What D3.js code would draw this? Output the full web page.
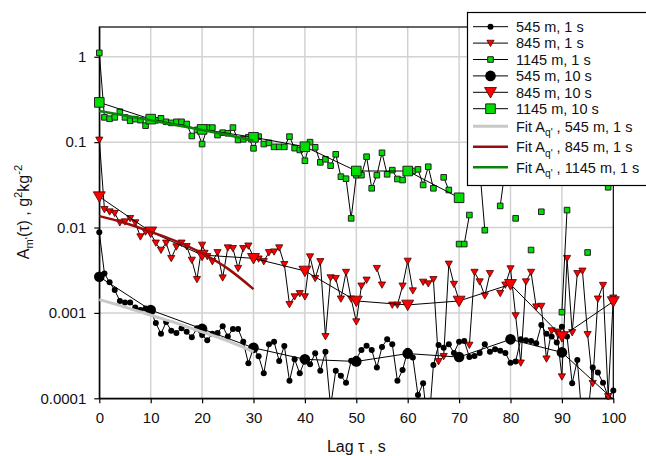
<!DOCTYPE html>
<html>
<head>
<meta charset="utf-8">
<script src="https://cdn.jsdelivr.net/npm/d3@7"></script>
<style>
  body { margin: 0; background: #fff; }
  svg { font-family: "Liberation Sans", Arial, sans-serif; }
</style>
</head>
<body>
<div id="chart"></div>
<script>
// lag axis (s)
var lags1s = d3.range(0, 101);
var lags10s = [0, 10, 20, 30, 40, 50, 60, 70, 80, 90, 100];
var lagsFit = [0, 5, 10, 15, 20, 25, 30];

// A_m'(tau), 545 m, 1 s  (null = negative / not plotted)
var a545_1s = [
  0.0088, 0.0029, 0.00228, 0.00185, 0.00138, 0.00132, 0.00132, 0.00116, 0.00108, 0.00113,
  0.00105, 0.00076, 0.00057, 0.00078, 0.00062, 0.00058, 0.00066, 0.0006, 0.00052, 0.00066,
  0.00055, 0.00048, 0.00057, 0.00058, 0.0007, 0.00053, 0.00065, 0.00065, 0.00046, 0.000257,
  0.00039, 0.00031, 0.000196, 0.00043, 0.00046, 0.000273, 0.00041, 0.00016, 0.000286, 0.000196,
  0.00028, 0.00025, 0.000336, 0.00021, 0.00035, 0.00008, 0.00021, 0.000184, 0.000152, 0.000276,
  0.00029, 0.000368, 0.000413, 0.000368, 0.00023, 0.0004, 0.00049, 0.00043, 0.00016, 0.000214,
  0.00036, 0.0003, 0.000109, 0.00015, 0.00004, 0.000245, 0.00042, 0.00039, 0.00043, 0.00034,
  0.00046, 0.00047, 0.000304, 0.000313, 0.00034, 0.00043, 0.00035, 0.000375, 0.00036, 0.00034,
  0.00026, 0.00027, 0.00049, 0.00048, 0.00047, 0.00044, 0.00072, 0.00057, 0.00053, 0.00045,
  0.00069, 0.00053, 0.00015, 0.00028, 0.00005, 0.00006, 0.00023, 0.0002, 0.000152, 0.000105,
  0.000123
];

// 845 m, 1 s
var a845_1s = [
  0.106, 0.0163, 0.0153, 0.0147, 0.0114, 0.0117, 0.0128, 0.0114, 0.0078, 0.0089,
  0.0085, 0.0066, 0.00545, 0.0066, 0.00436, 0.00596, 0.0066, 0.006, 0.00416, 0.00247,
  0.00624, 0.0046, 0.004, 0.0051, 0.00258, 0.0058, 0.0057, 0.00333, 0.0057, 0.0061,
  0.0045, 0.0043, 0.004, 0.0051, 0.0052, 0.0058, 0.0037, 0.00126, 0.00155, 0.00169,
  0.00155, 0.00455, 0.00254, 0.004, 0.00053, 0.00259, 0.00254, 0.00146, 0.003, 0.00146,
  0.00079, 0.00207, 0.00243, null, 0.00333, 0.00213, null, 0.00124, 0.00124, 0.00207,
  0.00405, 0.00182, null, 0.0023, 0.0022, 0.00247, 0.00027, 0.00031, 0.00374, 0.00217,
  0.0014, null, 0.00042, 0.003, 0.00232, 0.00159, 0.0029, null, 0.0017, 0.00213,
  0.0033, 0.00093, 0.00026, 0.00232, 0.003, 0.00118, 0.0012, 0.00029, 0.00062, 0.0006,
  0.000179, 0.00436, 0.00059, 0.0029, 0.0031, 0.00056, 0.00015, 0.00146, 0.00211, 0.000105,
  0.0015
];

// 1145 m, 1 s
var a1145_1s = [
  1.11, 0.195, 0.188, 0.195, 0.227, 0.195, 0.178, 0.186, 0.181, 0.156,
  0.18, 0.18, 0.19, 0.173, 0.168, 0.173, 0.173, 0.163, 0.118, 0.139,
  0.095, 0.148, 0.148, 0.121, 0.129, 0.127, 0.148, 0.106, 0.108, 0.114,
  0.0846, 0.116, 0.095, 0.098, 0.088, 0.088, 0.088, 0.116, 0.085, 0.081,
  0.0606, 0.1, 0.087, 0.058, 0.063, 0.053, 0.072, 0.0394, 0.0373, 0.0128,
  0.041, 0.041, 0.0675, 0.0288, 0.041, 0.075, 0.042, 0.047, 0.037, 0.036,
  0.045, 0.046, 0.048, 0.0315, 0.0515, 0.0288, null, 0.0387, 0.0275, null,
  0.0064, 0.0064, 0.014, null, 0.05, 0.0093, null, null, 0.0179, 0.05,
  null, 0.0128, null, null, 0.00545, null, 0.0153, null, null, null,
  0.00102, 0.016, null, null, null, 0.0051, null, null, null, 0.0296,
  null
];

// 10 s averages
var a545_10s = [0.00265, 0.00108, 0.00065, 0.00039, 0.000286, 0.00027, 0.000334, 0.000304, 0.00049, 0.000345, 0.000097];
var a845_10s = [0.023, 0.0089, 0.00476, 0.00436, 0.0031, 0.00138, 0.00124, 0.00138, 0.00216, 0.00053, 0.00136];
var a1145_10s = [0.292, 0.186, 0.141, 0.114, 0.0883, 0.0459, 0.0459, 0.0223, null, null, null];

// fits A_q'
var fit545 = [0.00143, 0.00117, 0.00094, 0.00076, 0.0006, 0.00047, 0.00035];
var fit845 = [0.0136, 0.0113, 0.0089, 0.0069, 0.005, 0.0033, 0.0019];
var fit1145 = [0.231, 0.205, 0.18, 0.158, 0.139, 0.121, 0.104];

var xTicks = [0, 10, 20, 30, 40, 50, 60, 70, 80, 90, 100];
var yTicks = [0.0001, 0.001, 0.01, 0.1, 1];
var yTickLabels = ["0.0001", "0.001", "0.01", "0.1", "1"];

var width = 646, height = 456;
var plotL = 99.3, plotR = 613.3, plotT = 27, plotB = 398.3;

var svg = d3.select("#chart").append("svg")
  .attr("width", width)
  .attr("height", height);

var x = d3.scaleLinear().domain([0, 100]).range([plotL, plotR]);
var y = d3.scaleLog().domain([0.0001, 2.23]).range([plotB, plotT]);

svg.append("defs").append("clipPath").attr("id", "clip")
  .append("rect")
  .attr("x", plotL - 20).attr("y", plotT)
  .attr("width", plotR - plotL + 40).attr("height", plotB - plotT);

// grid
var grid = svg.append("g");
grid.selectAll("line.vx")
  .data(xTicks.slice(1, -1))
  .join("line")
  .attr("x1", d => x(d)).attr("x2", d => x(d))
  .attr("y1", plotT).attr("y2", plotB)
  .attr("stroke", "#d2d2d2").attr("stroke-width", 1.5);
grid.selectAll("line.hy")
  .data(yTicks.slice(1))
  .join("line")
  .attr("y1", d => y(d)).attr("y2", d => y(d))
  .attr("x1", plotL).attr("x2", plotR)
  .attr("stroke", "#d2d2d2").attr("stroke-width", 1.5);

// frame
svg.append("rect")
  .attr("x", plotL).attr("y", plotT)
  .attr("width", plotR - plotL).attr("height", plotB - plotT)
  .attr("fill", "none").attr("stroke", "#000").attr("stroke-width", 1.2);

// axes
var xAxis = svg.append("g")
  .attr("transform", "translate(0," + plotB + ")")
  .call(d3.axisBottom(x).tickValues(xTicks).tickSize(5).tickSizeOuter(0).tickPadding(9));
var yAxis = svg.append("g")
  .attr("transform", "translate(" + plotL + ",0)")
  .call(d3.axisLeft(y).tickValues(yTicks).tickSize(5).tickSizeOuter(0).tickPadding(8)
    .tickFormat((d, i) => yTickLabels[i]));
[xAxis, yAxis].forEach(function (a) {
  a.selectAll("text").attr("font-size", "15px").attr("fill", "#111")
    .attr("font-family", "'Liberation Sans', Arial, sans-serif");
  a.selectAll("line").attr("stroke", "#000").attr("stroke-width", 1.2);
  a.select(".domain").attr("stroke", "#000").attr("stroke-width", 1.2);
});

// marker shapes
function markerPath(shape, s) {
  if (shape === "circle") return d3.symbol(d3.symbolCircle, Math.PI * s * s)();
  if (shape === "square") return "M" + (-s) + "," + (-s) + "h" + (2 * s) + "v" + (2 * s) + "h" + (-2 * s) + "Z";
  return "M" + (-s) + "," + (-0.8 * s) + "L" + s + "," + (-0.8 * s) + "L0," + (0.95 * s) + "Z";
}

var styles = {
  black: { fill: "#000", stroke: "#000", sw: 0 },
  red: { fill: "#ff0000", stroke: "#4a0000", sw: 0.8 },
  green: { fill: "#00dd00", stroke: "#222", sw: 1 }
};

var series = [
  { name: "545 m, 1 s", lags: lags1s, vals: a545_1s, shape: "circle", size: 3, col: "black" },
  { name: "845 m, 1 s", lags: lags1s, vals: a845_1s, shape: "tri", size: 3.6, col: "red" },
  { name: "1145 m, 1 s", lags: lags1s, vals: a1145_1s, shape: "square", size: 2.8, col: "green" },
  { name: "545 m, 10 s", lags: lags10s, vals: a545_10s, shape: "circle", size: 5.3, col: "black" },
  { name: "845 m, 10 s", lags: lags10s, vals: a845_10s, shape: "tri", size: 6, col: "red" },
  { name: "1145 m, 10 s", lags: lags10s, vals: a1145_10s, shape: "square", size: 4.8, col: "green" }
];

var fits = [
  { name: "545 m, 1 s", vals: fit545, color: "#c8c8c8", w: 3 },
  { name: "845 m, 1 s", vals: fit845, color: "#9a0c0c", w: 2.5 },
  { name: "1145 m, 1 s", vals: fit1145, color: "#0b820b", w: 2.5 }
];

var line = d3.line()
  .defined(d => d.v != null)
  .x(d => x(d.l))
  .y(d => y(d.v));

var plot = svg.append("g");

series.forEach(function (s) {
  var pts = s.lags.map((l, i) => ({ l: l, v: s.vals[i] }));
  var st = styles[s.col];
  plot.append("path")
    .datum(pts)
    .attr("clip-path", "url(#clip)")
    .attr("d", line)
    .attr("fill", "none")
    .attr("stroke", "#000")
    .attr("stroke-width", 1);
  plot.append("g")
    .selectAll("path")
    .data(pts.filter(d => d.v != null && d.v >= 0.0001))
    .join("path")
    .attr("transform", d => "translate(" + x(d.l) + "," + y(d.v) + ")")
    .attr("d", markerPath(s.shape, s.size))
    .attr("fill", st.fill)
    .attr("stroke", st.stroke)
    .attr("stroke-width", st.sw);
});

var fitLine = d3.line()
  .curve(d3.curveMonotoneX)
  .x(d => x(d.l))
  .y(d => y(d.v));

fits.forEach(function (f) {
  plot.append("path")
    .datum(lagsFit.map((l, i) => ({ l: l, v: f.vals[i] })))
    .attr("d", fitLine)
    .attr("fill", "none")
    .attr("stroke", f.color)
    .attr("stroke-width", f.w);
});

// rich text helper: parts [text, shift(px, + = down), scale]
function richText(sel, parts, fs) {
  var prev = 0;
  parts.forEach(function (p) {
    var shift = p[1] || 0;
    sel.append("tspan")
      .attr("dy", shift - prev)
      .attr("font-size", (fs * (p[2] || 1)) + "px")
      .text(p[0]);
    prev = shift;
  });
}

// axis titles
var xt = svg.append("text")
  .attr("x", (plotL + plotR) / 2)
  .attr("y", 452)
  .attr("text-anchor", "middle")
  .attr("fill", "#111");
richText(xt, [["Lag "], ["\u03c4", 0, 1], [" , s"]], 16);

var yt = svg.append("text")
  .attr("transform", "translate(29,212) rotate(-90)")
  .attr("text-anchor", "middle")
  .attr("fill", "#111");
richText(yt, [["A"], ["m'", 4, 0.7], ["(\u03c4) , g", 0], ["2", -7, 0.7], ["kg", 0], ["-2", -7, 0.7], ["", 0]], 16);

// legend
var lg = svg.append("g");
lg.append("rect")
  .attr("x", 467.5).attr("y", 12.5)
  .attr("width", 190).attr("height", 173)
  .attr("fill", "#fff").attr("stroke", "#000").attr("stroke-width", 1.2);

var lx0 = 473, lx1 = 508, ltx = 516;
series.forEach(function (s, i) {
  var cy = 26.7 + i * 16.4;
  var st = styles[s.col];
  lg.append("line")
    .attr("x1", lx0).attr("x2", lx1).attr("y1", cy).attr("y2", cy)
    .attr("stroke", "#000").attr("stroke-width", 1);
  lg.append("path")
    .attr("transform", "translate(" + ((lx0 + lx1) / 2) + "," + cy + ")")
    .attr("d", markerPath(s.shape, s.size))
    .attr("fill", st.fill).attr("stroke", st.stroke).attr("stroke-width", st.sw);
  lg.append("text")
    .attr("x", ltx).attr("y", cy + 5.2)
    .attr("font-size", "14.5px").attr("fill", "#111")
    .text(s.name);
});
fits.forEach(function (f, j) {
  var cy = 126.3 + j * 20.5;
  lg.append("line")
    .attr("x1", lx0).attr("x2", lx1).attr("y1", cy).attr("y2", cy)
    .attr("stroke", f.color).attr("stroke-width", f.w);
  var t = lg.append("text")
    .attr("x", ltx).attr("y", cy + 5.2)
    .attr("fill", "#111");
  richText(t, [["Fit A"], ["q'", 4.5, 0.7], [" , " + f.name, 0]], 14.5);
});
</script>
</body>
</html>
